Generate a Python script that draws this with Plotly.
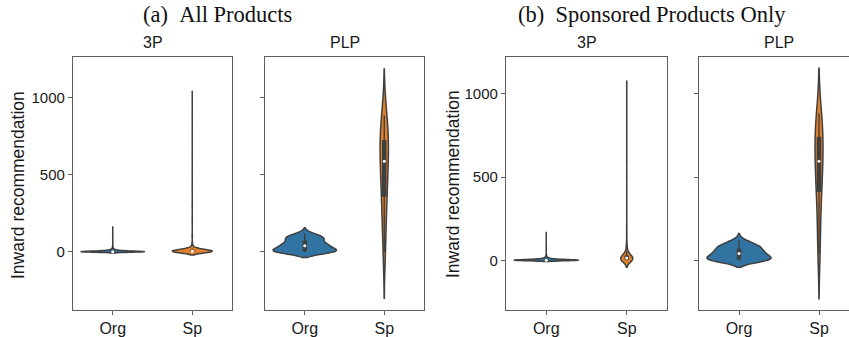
import numpy as np
import plotly.graph_objects as go

# ---------------- data (as value/count histograms) ----------------
CATEGORIES = ["Org", "Sp"]
Y_TICKS = [0, 500, 1000]
PANEL_TITLES = ["3P", "PLP", "3P", "PLP"]
GROUP_TITLES = ["(a)\u00a0\u00a0All Products", "(b)\u00a0\u00a0Sponsored Products Only"]
Y_LABEL = "Inward recommendation"

# (a) All Products, 3P
A3P_ORG_VALUES = [0, 2, 4, 6, 8, 10, 15, 20, 30, 40, 60, 80, 100, 120, 156]
A3P_ORG_COUNTS = [300, 250, 150, 80, 60, 50, 35, 20, 8, 4, 2, 2, 1, 1, 1]
A3P_SP_VALUES = [0, 5, 10, 15, 20, 30, 50, 100, 200, 300, 400, 500, 600, 700, 800, 900, 1020]
A3P_SP_COUNTS = [200, 150, 100, 60, 30, 15, 8, 4, 2, 2, 1, 1, 1, 1, 1, 1, 1]
# (a) All Products, PLP
APLP_ORG_VALUES = [0, 2, 10, 20, 30, 40, 50, 60, 75, 90, 100, 110, 121]
APLP_ORG_COUNTS = [5, 3, 2, 2, 2, 3, 2, 2, 2, 3, 2, 1, 1]
APLP_SP_VALUES = [0, 150, 290, 357, 440, 520, 588, 630, 690, 725, 780, 830, 886]
APLP_SP_COUNTS = [1, 1, 1, 1, 1, 1, 1, 1, 1, 1, 1, 1, 1]

# (b) Sponsored Products Only, 3P
B3P_ORG_VALUES = [0, 2, 4, 6, 8, 10, 15, 20, 30, 40, 60, 80, 100, 130, 162]
B3P_ORG_COUNTS = [300, 250, 150, 80, 60, 50, 35, 20, 8, 4, 2, 2, 1, 1, 1]
B3P_SP_VALUES = [0, 5, 10, 15, 20, 30, 40, 60, 80, 100, 150, 200, 300, 400, 500, 600, 700, 800, 900, 1035]
B3P_SP_COUNTS = [30, 25, 25, 22, 18, 15, 10, 6, 4, 3, 2, 2, 1, 1, 1, 1, 1, 1, 1, 1]
# (b) Sponsored Products Only, PLP
BPLP_ORG_VALUES = [0, 5, 12, 20, 30, 42, 50, 60, 72, 84, 95, 108, 122]
BPLP_ORG_COUNTS = [4, 4, 2, 2, 2, 3, 2, 2, 2, 3, 2, 1, 1]
BPLP_SP_VALUES = [40, 180, 330, 410, 480, 550, 595, 640, 700, 741, 790, 840, 883]
BPLP_SP_COUNTS = [1, 1, 1, 1, 1, 1, 1, 1, 1, 1, 1, 1, 1]

# ---------------- styling ----------------
BLUE = "#3274a1"
ORANGE = "#e1812c"
DARK = "#3f3f3f"
FRAME = "#5e5e5e"
W, H = 849, 337

def expand(values, counts):
    return np.repeat(np.asarray(values, dtype=float), counts)

# panel index -> list of violins (category, values, counts, bandwidth, width, color)
panels = [
    [("Org", A3P_ORG_VALUES, A3P_ORG_COUNTS, 3, 0.8, BLUE),
     ("Sp", A3P_SP_VALUES, A3P_SP_COUNTS, 10, 0.5, ORANGE)],
    [("Org", APLP_ORG_VALUES, APLP_ORG_COUNTS, 18, 0.8, BLUE),
     ("Sp", APLP_SP_VALUES, APLP_SP_COUNTS, 150, 0.105, ORANGE)],
    [("Org", B3P_ORG_VALUES, B3P_ORG_COUNTS, 3, 0.8, BLUE),
     ("Sp", B3P_SP_VALUES, B3P_SP_COUNTS, 20, 0.15, ORANGE)],
    [("Org", BPLP_ORG_VALUES, BPLP_ORG_COUNTS, 20, 0.8, BLUE),
     ("Sp", BPLP_SP_VALUES, BPLP_SP_COUNTS, 135, 0.1, ORANGE)],
]

# pixel geometry of the four panels (left, right) and shared top/bottom
px_x = [(73, 232), (265, 424), (506, 667), (699, 859)]
px_top, px_bottom = 57.3, 310
y_ranges = [(-376, 1261), (-376, 1261), (-297, 1218), (-297, 1218)]

fig = go.Figure()

for i, violins in enumerate(panels):
    ax = "" if i == 0 else str(i + 1)
    for cat, vals, cnts, bw, wd, col in violins:
        data = expand(vals, cnts)
        fig.add_trace(go.Violin(
            x0=cat, y=data, xaxis="x" + ax, yaxis="y" + ax,
            bandwidth=bw, width=wd, spanmode="soft", scalemode="width",
            fillcolor=col, line=dict(color=DARK, width=1.5),
            points=False, box_visible=False, meanline_visible=False,
            opacity=1, showlegend=False, hoverinfo="skip"))
        q1, med, q3 = np.percentile(data, [25, 50, 75])
        iqr = q3 - q1
        lo = data[data >= q1 - 1.5 * iqr].min()
        hi = data[data <= q3 + 1.5 * iqr].max()
        fig.add_trace(go.Scatter(x=[cat, cat], y=[lo, hi], mode="lines",
                                 line=dict(color=DARK, width=1.4),
                                 xaxis="x" + ax, yaxis="y" + ax,
                                 showlegend=False, hoverinfo="skip"))
        fig.add_trace(go.Scatter(x=[cat, cat], y=[q1, q3], mode="lines",
                                 line=dict(color=DARK, width=4.5),
                                 xaxis="x" + ax, yaxis="y" + ax,
                                 showlegend=False, hoverinfo="skip"))
        fig.add_trace(go.Scatter(x=[cat], y=[med], mode="markers",
                                 marker=dict(color="white", size=3, line=dict(width=0)),
                                 xaxis="x" + ax, yaxis="y" + ax,
                                 showlegend=False, hoverinfo="skip"))

layout = dict(
    width=W, height=H, margin=dict(l=0, r=0, t=0, b=0),
    paper_bgcolor="white", plot_bgcolor="white",
    font=dict(family="Liberation Sans, Arial, sans-serif", color="#1a1a1a"),
    violinmode="overlay",
)

dom_y = [1 - px_bottom / H, 1 - px_top / H]
for i in range(4):
    ax = "" if i == 0 else str(i + 1)
    l, r = px_x[i]
    right = min(r, W)
    x_hi = -0.5 + 2.0 * (right - l) / (r - l)
    layout["xaxis" + ax] = dict(
        domain=[l / W, right / W], anchor="y" + ax,
        type="category", categoryorder="array", categoryarray=CATEGORIES,
        range=[-0.5, x_hi],
        showline=True, linecolor=FRAME, linewidth=1.3, mirror=True,
        ticks="outside", ticklen=4, tickcolor=FRAME, tickwidth=1.2,
        tickfont=dict(size=16), showgrid=False, zeroline=False, fixedrange=True)
    layout["yaxis" + ax] = dict(
        domain=dom_y, anchor="x" + ax, range=list(y_ranges[i]),
        tickvals=Y_TICKS, ticktext=[str(t) for t in Y_TICKS],
        showticklabels=(i % 2 == 0),
        showline=True, linecolor=FRAME, linewidth=1.3, mirror=(i != 3),
        ticks="outside", ticklen=4, tickcolor=FRAME, tickwidth=1.2,
        tickfont=dict(size=15), showgrid=False, zeroline=False, fixedrange=True)

annotations = []
# group titles
for text, cx in zip(GROUP_TITLES, [217.5, 652]):
    annotations.append(dict(text=text, x=cx / W, y=1 - 15 / H, xref="paper", yref="paper",
                            xanchor="center", yanchor="middle", showarrow=False,
                            font=dict(family="Liberation Serif, Times New Roman, serif",
                                      size=22.5, color="#111111")))
# panel titles
for text, cx in zip(PANEL_TITLES, [152.5, 344.5, 586.5, 779]):
    annotations.append(dict(text=text, x=cx / W, y=1 - 43 / H, xref="paper", yref="paper",
                            xanchor="center", yanchor="middle", showarrow=False,
                            font=dict(size=16, color="#1a1a1a")))
# y-axis labels
for cx, cy in [(17.5, 185.5), (453, 184)]:
    annotations.append(dict(text=Y_LABEL, x=cx / W, y=1 - cy / H, xref="paper", yref="paper",
                            xanchor="center", yanchor="middle", showarrow=False, textangle=-90,
                            font=dict(size=17.5, color="#1a1a1a")))
layout["annotations"] = annotations

fig.update_layout(**layout)
fig.write_html("out.html", config={"displayModeBar": False},
               post_script="document.body.style.margin='0';document.body.style.overflow='hidden';")
